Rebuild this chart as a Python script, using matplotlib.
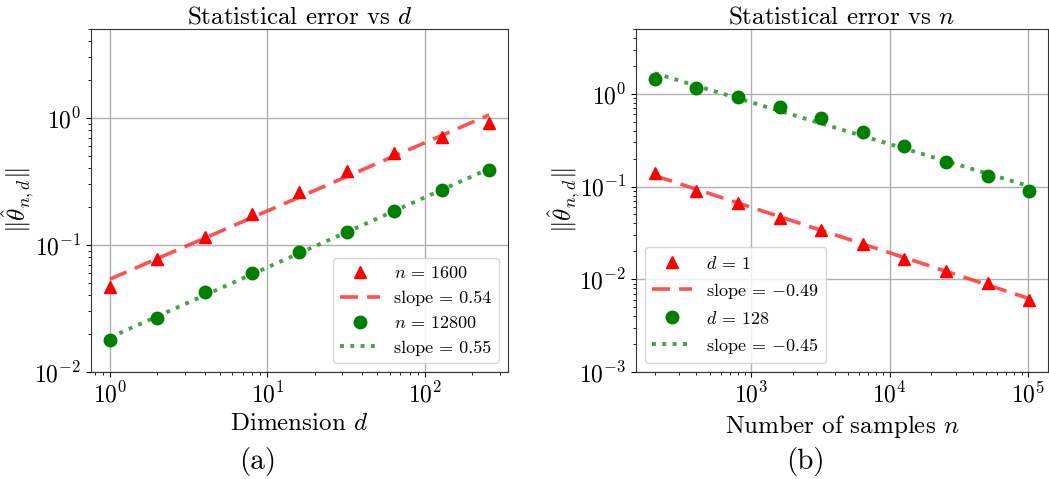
import matplotlib
matplotlib.use("Agg")
import matplotlib.pyplot as plt
import numpy as np

plt.rcParams['font.family'] = ['cmr10', 'DejaVu Serif']
plt.rcParams['mathtext.fontset'] = 'cm'
plt.rcParams['axes.formatter.use_mathtext'] = True
plt.rcParams['axes.unicode_minus'] = True

# data: error vs dimension d
dims = [1, 2, 4, 8, 16, 32, 64, 128, 256]
err_d_n1600 = [0.047, 0.077, 0.116, 0.174, 0.26, 0.38, 0.53, 0.71, 0.905]
err_d_n12800 = [0.018, 0.0267, 0.0425, 0.0597, 0.0879, 0.127, 0.184, 0.27, 0.388]

# data: error vs number of samples n
samples = [200, 400, 800, 1600, 3200, 6400, 12800, 25600, 51200, 102400]
err_n_d1 = [0.139, 0.0897, 0.066, 0.0462, 0.0337, 0.0242, 0.0167, 0.0123, 0.0092, 0.006]
err_n_d128 = [1.44, 1.15, 0.914, 0.713, 0.542, 0.392, 0.272, 0.186, 0.129, 0.0897]

labels_a = ["$n$ = 1600", "slope = 0.54", "$n$ = 12800", "slope = 0.55"]
labels_b = ["$d$ = 1", "slope = $-$0.49", "$d$ = 128", "slope = $-$0.45"]


def fit_line(x, y):
    p = np.polyfit(np.log(x), np.log(y), 1)
    return np.exp(np.polyval(p, np.log(x)))


W, H = 1049, 479
fig = plt.figure(figsize=(W / 100, H / 100), dpi=100)
ax1 = fig.add_axes([91 / W, 1 - 372 / H, 417 / W, 343 / H])
ax2 = fig.add_axes([636 / W, 1 - 372 / H, 412 / W, 343 / H])

red = 'red'
red_line = (1.0, 0.2, 0.2, 0.85)
green = 'green'
green_line = (0.2, 0.6, 0.2, 0.9)

def draw(ax, x, y1, y2, labels):
    x = np.array(x)
    ax.plot(x, y1, '^', color=red, ms=9, label=labels[0], zorder=3)
    ax.plot(x, fit_line(x, y1), '--', color=red_line, lw=2.6, dashes=(5, 2.5), label=labels[1], zorder=2)
    ax.plot(x, y2, 'o', color=green, ms=9, label=labels[2], zorder=3)
    ax.plot(x, fit_line(x, y2), ':', color=green_line, lw=2.8, label=labels[3], zorder=2)
    ax.set_xscale('log')
    ax.set_yscale('log')
    ax.grid(True, which='major', color='#b0b0b0', lw=1.0)
    ax.tick_params(labelsize=17)
    for s in ax.spines.values():
        s.set_color('#333333')
    ax.set_ylabel(r"$\|\hat{\theta}_{n,d}\|$", fontsize=18)
    ax.yaxis.set_label_coords(-0.132, 0.5)

draw(ax1, dims, err_d_n1600, err_d_n12800, labels_a)
ax1.set_ylim(1e-2, 5)
ax1.set_title("Statistical error vs $d$", fontsize=18, pad=3)
ax1.set_xlabel("Dimension $d$", fontsize=18, labelpad=4)
ax1.legend(loc='lower right', fontsize=13, handlelength=2.2)

draw(ax2, samples, err_n_d1, err_n_d128, labels_b)
ax2.set_ylim(1e-3, 5)
ax2.set_title("Statistical error vs $n$", fontsize=18, pad=3)
ax2.set_xlabel("Number of samples $n$", fontsize=18, labelpad=4)
ax2.legend(loc='lower left', fontsize=13, handlelength=2.2)

fig.text(258 / W, 1 - 462 / H, "(a)", fontsize=21, ha='center', va='center')
fig.text(805 / W, 1 - 462 / H, "(b)", fontsize=21, ha='center', va='center')

fig.savefig("out.png", dpi=100)
